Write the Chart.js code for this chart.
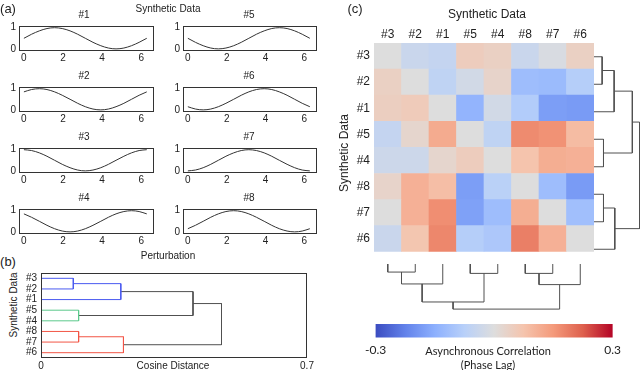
<!DOCTYPE html>
<html>
<head>
<meta charset="utf-8">
<title>Synthetic Data</title>
<script src="https://cdn.jsdelivr.net/npm/chart.js@4.4.1/dist/chart.umd.min.js"></script>
<style>
  html, body { margin: 0; padding: 0; background: #fff; }
  body { position: relative; width: 640px; height: 370px; overflow: hidden;
         font-family: "Liberation Sans", Arial, sans-serif; color: #222; }
  canvas { position: absolute; }
  .txt { position: absolute; white-space: nowrap; line-height: 1; transform: translate(-50%, -50%); }
</style>
</head>
<body>
<script>
// ===== Panel (a): perturbation curves (sampled every pi/8) =====
const phaseX = [0, 0.39, 0.79, 1.18, 1.57, 1.96, 2.36, 2.75, 3.14, 3.53, 3.93, 4.32, 4.71, 5.11, 5.5, 5.89, 6.28];
const curve1 = [0.5, 0.69, 0.85, 0.96, 1, 0.96, 0.85, 0.69, 0.5, 0.31, 0.15, 0.04, 0, 0.04, 0.15, 0.31, 0.5];
const curve2 = [0.85, 0.96, 1, 0.96, 0.85, 0.69, 0.5, 0.31, 0.15, 0.04, 0, 0.04, 0.15, 0.31, 0.5, 0.69, 0.85];
const curve3 = [1, 0.96, 0.85, 0.69, 0.5, 0.31, 0.15, 0.04, 0, 0.04, 0.15, 0.31, 0.5, 0.69, 0.85, 0.96, 1];
const curve4 = [0.85, 0.69, 0.5, 0.31, 0.15, 0.04, 0, 0.04, 0.15, 0.31, 0.5, 0.69, 0.85, 0.96, 1, 0.96, 0.85];
const curve5 = [0.5, 0.31, 0.15, 0.04, 0, 0.04, 0.15, 0.31, 0.5, 0.69, 0.85, 0.96, 1, 0.96, 0.85, 0.69, 0.5];
const curve6 = [0.15, 0.04, 0, 0.04, 0.15, 0.31, 0.5, 0.69, 0.85, 0.96, 1, 0.96, 0.85, 0.69, 0.5, 0.31, 0.15];
const curve7 = [0, 0.04, 0.15, 0.31, 0.5, 0.69, 0.85, 0.96, 1, 0.96, 0.85, 0.69, 0.5, 0.31, 0.15, 0.04, 0];
const curve8 = [0.15, 0.31, 0.5, 0.69, 0.85, 0.96, 1, 0.96, 0.85, 0.69, 0.5, 0.31, 0.15, 0.04, 0, 0.04, 0.15];
const curveNames = ['#1', '#2', '#3', '#4', '#5', '#6', '#7', '#8'];
const curveTicksX = [0, 2, 4, 6];
const curveTicksY = [0, 1];

// ===== Panels (b) and (c): clustering =====
const leafOrder = ['#3', '#2', '#1', '#5', '#4', '#8', '#7', '#6'];
// merges, named A, B, C ... in order
const mergeLeft   = ['#3', 'A', '#5', '#8', 'D', 'B', 'F'];
const mergeRight  = ['#2', '#1', '#4', '#7', '#6', 'C', 'E'];
const mergeHeight = [0.085, 0.21, 0.099, 0.099, 0.217, 0.40, 0.475];
const distanceTicks = [0, 0.7];

// asynchronous correlation, rows and columns in leafOrder
const corrRow3 = [0, -0.04, -0.05, 0.05, 0.04, -0.04, -0.01, 0.04];
const corrRow2 = [0.04, 0, -0.06, -0.025, 0.03, -0.12, -0.125, -0.08];
const corrRow1 = [0.045, 0.055, 0, -0.14, -0.025, -0.085, -0.18, -0.185];
const corrRow5 = [-0.05, 0.025, 0.12, 0, -0.06, 0.17, 0.16, 0.09];
const corrRow4 = [-0.035, -0.035, 0.025, 0.05, 0, 0.075, 0.115, 0.11];
const corrRow8 = [0.03, 0.11, 0.085, -0.18, -0.07, 0, -0.12, -0.185];
const corrRow7 = [0, 0.11, 0.165, -0.175, -0.12, 0.115, 0, -0.115];
const corrRow6 = [-0.04, 0.07, 0.175, -0.08, -0.095, 0.185, 0.11, 0];
const corrRows = [corrRow3, corrRow2, corrRow1, corrRow5, corrRow4, corrRow8, corrRow7, corrRow6];
const colorbarTicks = [-0.3, 0.3];

// ============ STYLE ============
Chart.defaults.font.family = '"Liberation Sans", Arial, sans-serif';
Chart.defaults.font.size = 10;
Chart.defaults.color = '#222';

const COOLWARM = [
    [59, 76, 192], [98, 130, 234], [141, 176, 254], [184, 208, 249], [221, 221, 221],
    [245, 196, 173], [244, 154, 123], [222, 96, 77], [180, 4, 38]
];
const CLUSTER_COLORS = ['#4a5af0', '#4a5af0', '#5cc98c', '#f25545', '#f25545', '#505050', '#505050'];

function coolwarm(v) {
    let t = (v + 0.3) / 0.6;
    t = Math.max(0, Math.min(1, t)) * (COOLWARM.length - 1);
    const i = Math.min(Math.floor(t), COOLWARM.length - 2);
    const f = t - i;
    const c = COOLWARM[i].map((a, k) => Math.round(a + (COOLWARM[i + 1][k] - a) * f));
    return `rgb(${c[0]}, ${c[1]}, ${c[2]})`;
}

// frame around the plot area
Chart.register({
    id: 'frame',
    afterDraw(chart, args, opts) {
        if (!opts.color) return;
        const { left, top, right, bottom } = chart.chartArea;
        const ctx = chart.ctx;
        ctx.save();
        ctx.strokeStyle = opts.color;
        ctx.lineWidth = 1;
        ctx.strokeRect(Math.round(left) + 0.5, Math.round(top) + 0.5,
            Math.round(right - left) - 1, Math.round(bottom - top) - 1);
        ctx.restore();
    }
});

// ============ HELPERS ============

function addCanvas(left, top, w, h) {
    const c = document.createElement('canvas');
    c.width = w;
    c.height = h;
    c.style.left = left + 'px';
    c.style.top = top + 'px';
    c.style.width = w + 'px';
    c.style.height = h + 'px';
    document.body.appendChild(c);
    return c;
}

function addText(text, cx, cy, size, extra) {
    const d = document.createElement('div');
    d.className = 'txt';
    d.textContent = text;
    d.style.left = cx + 'px';
    d.style.top = cy + 'px';
    d.style.fontSize = size + 'px';
    if (extra) Object.assign(d.style, extra);
    document.body.appendChild(d);
    return d;
}

const fixTicks = vals => scale => { scale.ticks = vals.map(v => ({ value: v })); };

const baseOptions = () => ({
    animation: false,
    responsive: false,
    devicePixelRatio: 1,
    events: [],
    plugins: { legend: { display: false }, tooltip: { enabled: false } }
});

// dendrogram links as lists of {p: leaf position, h: height}
function buildLinks() {
    const pos = {}, hgt = {};
    leafOrder.forEach((n, i) => { pos[n] = i; hgt[n] = 0; });
    return mergeHeight.map((h, i) => {
        const a = mergeLeft[i], b = mergeRight[i];
        const name = String.fromCharCode(65 + i);
        pos[name] = (pos[a] + pos[b]) / 2;
        hgt[name] = h;
        return [{ p: pos[a], h: hgt[a] }, { p: pos[a], h }, { p: pos[b], h }, { p: pos[b], h: hgt[b] }];
    });
}

function linkDatasets(links, toXY, colors) {
    return links.map((pts, i) => ({
        data: pts.map(toXY),
        showLine: true,
        borderColor: colors[i],
        borderWidth: 1,
        pointRadius: 0,
        tension: 0,
        clip: false
    }));
}

// ============ PANEL (a) ============

function curveChart(canvas, ys) {
    const opts = baseOptions();
    opts.layout = { padding: { top: 2, right: 4, left: 0, bottom: 0 } };
    opts.plugins.frame = { color: '#333' };
    opts.scales = {
        x: {
            type: 'linear', min: -0.25, max: 6.65,
            grid: { display: false, drawTicks: false }, border: { display: false },
            ticks: { padding: 1, autoSkip: false },
            afterBuildTicks: fixTicks(curveTicksX),
            afterFit: s => { s.height = 14; }
        },
        y: {
            min: -0.1, max: 1.08,
            grid: { display: false, drawTicks: false }, border: { display: false },
            ticks: { padding: 3, autoSkip: false },
            afterBuildTicks: fixTicks(curveTicksY),
            afterFit: s => { s.width = 16; }
        }
    };
    return new Chart(canvas, {
        type: 'line',
        data: {
            datasets: [{
                data: phaseX.map((x, i) => ({ x, y: ys[i] })),
                borderColor: '#333',
                borderWidth: 1,
                pointRadius: 0,
                cubicInterpolationMode: 'monotone'
            }]
        },
        options: opts
    });
}

const curves = [curve1, curve2, curve3, curve4, curve5, curve6, curve7, curve8];
const rowTops = [19, 80, 141, 202];
curves.forEach((ys, i) => {
    const col = i < 4 ? 0 : 1;
    const row = i % 4;
    const left = col === 0 ? 3 : 167;
    const width = col === 0 ? 155 : 154;
    curveChart(addCanvas(left, rowTops[row] - 2, width, 48), ys);
    addText(curveNames[i], col === 0 ? 84 : 249, rowTops[row] - 4, 10);
});
addText('(a)', 8, 8, 13);
addText('Synthetic Data', 168, 9, 10);
addText('Perturbation', 168, 256, 10);

// ============ PANEL (b) ============

const links = buildLinks();
{
    const opts = baseOptions();
    opts.layout = { padding: { top: 4.5, right: 9, left: 0, bottom: 0 } };
    opts.plugins.frame = { color: '#333' };
    opts.scales = {
        x: {
            type: 'linear', min: 0, max: 0.7,
            grid: { display: false, drawTicks: false }, border: { display: false },
            ticks: { padding: 2, autoSkip: false },
            afterBuildTicks: fixTicks(distanceTicks),
            afterFit: s => { s.height = 12; }
        },
        y: {
            type: 'linear', min: 0.5, max: 8.5, reverse: true,
            grid: { display: false, drawTicks: false }, border: { display: false },
            ticks: { padding: 4, autoSkip: false, callback: v => leafOrder[v - 1] },
            afterBuildTicks: fixTicks(leafOrder.map((_, i) => i + 1)),
            afterFit: s => { s.width = 21; }
        }
    };
    new Chart(addCanvas(20, 263, 296, 107), {
        type: 'scatter',
        data: { datasets: linkDatasets(links, pt => ({ x: pt.h, y: pt.p + 1 }), CLUSTER_COLORS) },
        options: opts
    });
}
addText('(b)', 8, 261, 13);
addText('Synthetic Data', 13.5, 305, 10, { transform: 'translate(-50%, -50%) rotate(-90deg)' });
addText('Cosine Distance', 173, 366, 10);

// ============ PANEL (c) ============

// heatmap: stacked unit bars, bottom row first
{
    const bottomUp = corrRows.slice().reverse();
    const opts = baseOptions();
    opts.layout = { padding: 0 };
    opts.scales = {
        x: {
            type: 'category', position: 'top', stacked: true,
            grid: { display: false, drawTicks: false }, border: { display: false },
            ticks: { padding: 1, autoSkip: false, maxRotation: 0, font: { size: 12 } },
            afterFit: s => { s.height = 21; }
        },
        y: {
            type: 'linear', stacked: true, min: 0, max: 8,
            grid: { display: false, drawTicks: false }, border: { display: false },
            ticks: { padding: 4, autoSkip: false, font: { size: 12 }, callback: v => leafOrder[Math.round(7.5 - v)] },
            afterBuildTicks: fixTicks(leafOrder.map((_, i) => i + 0.5)),
            afterFit: s => { s.width = 24; }
        }
    };
    new Chart(addCanvas(350, 22, 244, 241), {
        type: 'bar',
        data: {
            labels: leafOrder,
            datasets: bottomUp.map(row => ({
                data: row.map(() => 1),
                backgroundColor: row.map(coolwarm),
                borderWidth: 0,
                barPercentage: 1,
                categoryPercentage: 1
            }))
        },
        options: opts
    });
}

// row dendrogram (right)
{
    const opts = baseOptions();
    opts.layout = { padding: 0 };
    opts.scales = {
        x: { type: 'linear', min: 0, max: 0.48, display: false },
        y: { type: 'linear', min: 0, max: 8, display: false }
    };
    new Chart(addCanvas(594, 43, 46, 220), {
        type: 'scatter',
        data: { datasets: linkDatasets(links, pt => ({ x: pt.h, y: 7.5 - pt.p }), links.map(() => '#505050')) },
        options: opts
    });
}

// column dendrogram (bottom)
{
    const opts = baseOptions();
    opts.layout = { padding: 0 };
    opts.scales = {
        x: { type: 'linear', min: -0.5, max: 7.5, display: false },
        y: { type: 'linear', min: 0, max: 0.495, reverse: true, display: false }
    };
    new Chart(addCanvas(374, 264, 220, 47), {
        type: 'scatter',
        data: { datasets: linkDatasets(links, pt => ({ x: pt.p, y: pt.h }), links.map(() => '#505050')) },
        options: opts
    });
}

// colorbar
{
    const opts = baseOptions();
    opts.layout = { padding: { left: 10, right: 9, top: 0, bottom: 0 } };
    opts.scales = {
        x: {
            type: 'linear', min: -0.3, max: 0.3,
            grid: { display: false, drawTicks: false }, border: { display: false },
            ticks: { padding: 5, autoSkip: false, font: { family: 'Lato, "Open Sans", sans-serif', size: 12 }, callback: v => String(v) },
            afterBuildTicks: fixTicks(colorbarTicks),
            afterFit: s => { s.height = 20.5; }
        },
        y: { type: 'linear', min: 0, max: 1, display: false }
    };
    new Chart(addCanvas(360, 324, 266, 34), {
        type: 'scatter',
        data: { datasets: [] },
        options: opts,
        plugins: [{
            id: 'colorbarFill',
            beforeDatasetsDraw(chart) {
                const { top, bottom } = chart.chartArea;
                const sx = chart.scales.x;
                const x0 = sx.getPixelForValue(-0.3), x1 = sx.getPixelForValue(0.3);
                const g = chart.ctx.createLinearGradient(x0, 0, x1, 0);
                COOLWARM.forEach((c, i) => g.addColorStop(i / (COOLWARM.length - 1), `rgb(${c[0]}, ${c[1]}, ${c[2]})`));
                chart.ctx.save();
                chart.ctx.fillStyle = g;
                chart.ctx.fillRect(x0, top, x1 - x0, bottom - top);
                chart.ctx.restore();
            }
        }]
    });
}

addText('(c)', 355, 8, 13);
addText('Synthetic Data', 487, 14, 12);
addText('Synthetic Data', 344, 153, 12, { transform: 'translate(-50%, -50%) rotate(-90deg)' });
addText('Asynchronous Correlation', 488, 350, 11, { fontFamily: 'Lato, "Open Sans", sans-serif' });
addText('(Phase Lag)', 488, 364, 11, { fontFamily: 'Lato, "Open Sans", sans-serif' });
</script>
</body>
</html>
